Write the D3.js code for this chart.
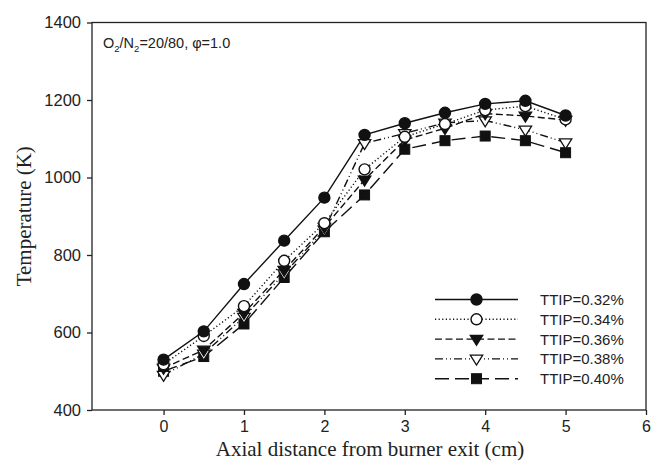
<!DOCTYPE html>
<html>
<head>
<meta charset="utf-8">
<script src="https://cdn.jsdelivr.net/npm/d3@7"></script>
<style>
  body { margin: 0; background: #fff; }
</style>
</head>
<body>
<div id="container"></div>
<script>
let w = 652;
let h = 462;
let margin = {left: 92, right: 6, top: 22.5, bottom: 52};

// data
let distances = [0, 0.5, 1, 1.5, 2, 2.5, 3, 3.5, 4, 4.5, 5];
let seriesNames = ["TTIP=0.32%", "TTIP=0.34%", "TTIP=0.36%", "TTIP=0.38%", "TTIP=0.40%"];
let temp032 = [530, 603, 725, 837, 948, 1110, 1140, 1167, 1190, 1198, 1160];
let temp034 = [518, 591, 668, 785, 882, 1021, 1105, 1138, 1174, 1184, 1150];
let temp036 = [508, 555, 650, 761, 872, 994, 1097, 1127, 1165, 1159, 1148];
let temp038 = [490, 545, 640, 752, 865, 1088, 1114, 1141, 1147, 1123, 1090];
let temp040 = [500, 538, 622, 742, 860, 955, 1073, 1095, 1107, 1095, 1064];
let xTicks = [0, 1, 2, 3, 4, 5, 6];
let yTicks = [400, 600, 800, 1000, 1200, 1400];

let allSeries = [temp032, temp034, temp036, temp038, temp040];
let dashes = ["none", "1.2,2.4", "7,3.5", "8,3,1,3,1,3", "14,6"];
let markerTypes = ["circleFill", "circleOpen", "triDown", "triDownOpen", "square"];

let viz = d3.select("#container")
  .append("svg")
    .attr("width", w)
    .attr("height", h)
    .style("background-color", "white")
;

let xScale = d3.scaleLinear().domain([-0.89, 6]).range([margin.left, w - margin.right]);
let yScale = d3.scaleLinear().domain([400, 1400]).range([h - margin.bottom, margin.top]);

// frame
viz.append("rect")
  .attr("x", xScale.range()[0])
  .attr("y", yScale.range()[1])
  .attr("width", xScale.range()[1] - xScale.range()[0])
  .attr("height", yScale.range()[0] - yScale.range()[1])
  .attr("fill", "none")
  .attr("stroke", "#222")
  .attr("stroke-width", 1.3)
;

let xAxis = d3.axisBottom(xScale).tickValues(xTicks).tickSize(5).tickSizeOuter(0).tickFormat(d3.format("d"));
let xAxisGroup = viz.append("g")
  .attr("transform", "translate(0," + (h - margin.bottom) + ")")
  .call(xAxis);
xAxisGroup.select(".domain").remove();
xAxisGroup.selectAll("line").attr("stroke", "#222").attr("stroke-width", 1.3);
xAxisGroup.selectAll("text")
  .attr("font-family", "Liberation Sans, Arial, sans-serif")
  .attr("font-size", "16px")
  .attr("fill", "#222")
  .attr("dy", "0.9em")
;

let yAxis = d3.axisLeft(yScale).tickValues(yTicks).tickSize(5).tickSizeOuter(0).tickFormat(d3.format("d"));
let yAxisGroup = viz.append("g")
  .attr("transform", "translate(" + margin.left + ",0)")
  .call(yAxis);
yAxisGroup.select(".domain").remove();
yAxisGroup.selectAll("line").attr("stroke", "#222").attr("stroke-width", 1.3);
yAxisGroup.selectAll("text")
  .attr("font-family", "Liberation Sans, Arial, sans-serif")
  .attr("font-size", "16.5px")
  .attr("fill", "#222")
  .attr("x", -11)
;

// axis titles
viz.append("text")
  .text("Axial distance from burner exit (cm)")
  .attr("x", 370)
  .attr("y", 456)
  .attr("text-anchor", "middle")
  .attr("font-family", "Liberation Serif, Times New Roman, serif")
  .attr("font-size", "21px")
  .attr("fill", "#222")
;

viz.append("text")
  .text("Temperature (K)")
  .attr("transform", "translate(31," + ((yScale.range()[0] + yScale.range()[1]) / 2) + ") rotate(-90)")
  .attr("text-anchor", "middle")
  .attr("font-family", "Liberation Serif, Times New Roman, serif")
  .attr("font-size", "21px")
  .attr("fill", "#222")
;

// annotation
let note = viz.append("text")
  .attr("x", 103)
  .attr("y", 48)
  .attr("font-family", "Liberation Sans, Arial, sans-serif")
  .attr("font-size", "14.5px")
  .attr("fill", "#222");
note.append("tspan").text("O");
note.append("tspan").text("2").attr("font-size", "9.5px").attr("dy", 4);
note.append("tspan").text("/N").attr("dy", -4);
note.append("tspan").text("2").attr("font-size", "9.5px").attr("dy", 4);
note.append("tspan").text("=20/80, \u03c6=1.0").attr("dy", -4);

// markers
function drawMarker(g, type, cx, cy) {
  if (type == "circleFill" || type == "circleOpen") {
    g.append("circle")
      .attr("cx", cx).attr("cy", cy).attr("r", 5.5)
      .attr("fill", type == "circleFill" ? "#111" : "white")
      .attr("stroke", "#111").attr("stroke-width", 1.4);
  } else if (type == "triDown" || type == "triDownOpen") {
    let s = 6.2;
    g.append("path")
      .attr("d", "M" + (cx - s) + "," + (cy - s * 0.6) + "L" + (cx + s) + "," + (cy - s * 0.6) + "L" + cx + "," + (cy + s * 1.0) + "Z")
      .attr("fill", type == "triDown" ? "#111" : "white")
      .attr("stroke", "#111").attr("stroke-width", 1.3);
  } else {
    g.append("rect")
      .attr("x", cx - 5).attr("y", cy - 5).attr("width", 10).attr("height", 10)
      .attr("fill", "#111").attr("stroke", "#111").attr("stroke-width", 1);
  }
}

let line = d3.line()
  .x(function(d, i){ return xScale(distances[i]); })
  .y(function(d){ return yScale(d); });

let plotGroup = viz.append("g").attr("class", "plotGroup");

// lines first, from last series to first so solid line sits on top
for (let s = allSeries.length - 1; s >= 0; s--) {
  plotGroup.append("path")
    .datum(allSeries[s])
    .attr("d", line)
    .attr("fill", "none")
    .attr("stroke", "#111")
    .attr("stroke-width", 1.4)
    .attr("stroke-dasharray", dashes[s])
  ;
}
for (let s = allSeries.length - 1; s >= 0; s--) {
  allSeries[s].forEach(function(d, i){
    drawMarker(plotGroup, markerTypes[s], xScale(distances[i]), yScale(d));
  });
}

// legend
let legend = viz.append("g").attr("class", "legend");
seriesNames.forEach(function(name, i){
  let ly = 299.5 + i * 19.8;
  legend.append("line")
    .attr("x1", 435).attr("x2", 518)
    .attr("y1", ly).attr("y2", ly)
    .attr("stroke", "#111").attr("stroke-width", 1.4)
    .attr("stroke-dasharray", dashes[i]);
  drawMarker(legend, markerTypes[i], 476.5, ly);
  legend.append("text")
    .text(name)
    .attr("x", 540)
    .attr("y", ly + 5.5)
    .attr("font-family", "Liberation Sans, Arial, sans-serif")
    .attr("font-size", "15px")
    .attr("fill", "#222");
});
</script>
</body>
</html>
